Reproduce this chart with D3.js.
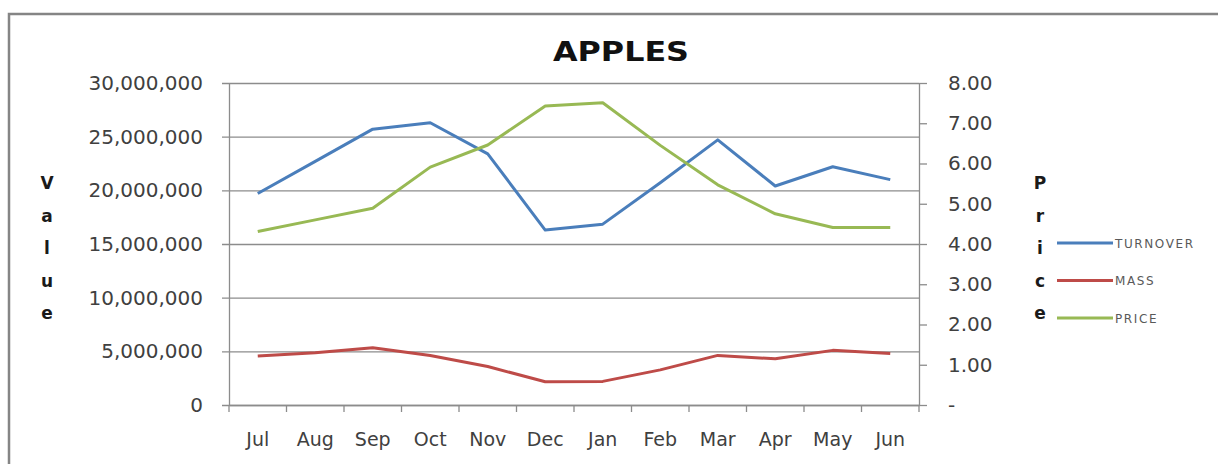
<!DOCTYPE html>
<html>
<head>
<meta charset="utf-8">
<script src="https://cdn.jsdelivr.net/npm/d3@7"></script>
<style>
  body { margin: 0; background: #fff; }
  svg text { font-family: "DejaVu Sans", sans-serif; }
</style>
</head>
<body>
<svg id="chart" width="1218" height="464"></svg>
<script>
// Monthly apple figures, July to June
const months = ["Jul", "Aug", "Sep", "Oct", "Nov", "Dec", "Jan", "Feb", "Mar", "Apr", "May", "Jun"];
const turnover = [19700000, 22700000, 25700000, 26300000, 23400000, 16300000, 16850000, 20700000, 24700000, 20400000, 22200000, 21000000];
const mass = [4560000, 4870000, 5340000, 4620000, 3580000, 2170000, 2200000, 3270000, 4620000, 4300000, 5090000, 4800000];
const price = [4.31, 4.60, 4.89, 5.91, 6.46, 7.43, 7.51, 6.45, 5.47, 4.75, 4.41, 4.41];
const valueTicks = [0, 5000000, 10000000, 15000000, 20000000, 25000000, 30000000];
const priceTicks = [0, 1, 2, 3, 4, 5, 6, 7, 8];
const seriesNames = ["TURNOVER", "MASS", "PRICE"];
const seriesColors = ["#4a7ebb", "#be4b48", "#98b954"];

const svg = d3.select("#chart");
const plotLeft = 229, plotRight = 919, plotTop = 83, plotBottom = 405;

const x = d3.scaleBand().domain(months).range([plotLeft, plotRight]);
const yValue = d3.scaleLinear().domain([0, 30000000]).range([plotBottom, plotTop]);
const yPrice = d3.scaleLinear().domain([0, 8]).range([plotBottom, plotTop]);

// chart frame (top and left edges)
svg.append("path")
  .attr("d", `M9,464 V14 H1218`)
  .attr("fill", "none")
  .attr("stroke", "#858585")
  .attr("stroke-width", 2.5);

// title
svg.append("text")
  .attr("x", 621).attr("y", 61)
  .attr("text-anchor", "middle")
  .attr("font-size", 26).attr("font-weight", "bold")
  .attr("fill", "#111")
  .attr("textLength", 136).attr("lengthAdjust", "spacingAndGlyphs")
  .text("APPLES");

// left axis with gridlines
const gLeft = svg.append("g").attr("transform", `translate(${plotLeft},0)`)
  .call(d3.axisLeft(yValue).tickValues(valueTicks)
    .tickSize(-(plotRight - plotLeft)).tickSizeOuter(0)
    .tickFormat(d => d === 0 ? "0" : d3.format(",")(d)).tickPadding(26));
gLeft.select(".domain").attr("stroke", "#8c8c8c").attr("stroke-width", 1.3);
gLeft.selectAll(".tick line").attr("x1", -7).attr("stroke", "#8c8c8c").attr("stroke-width", 1.3);
gLeft.selectAll(".tick text").attr("font-size", 20).attr("fill", "#404040").attr("font-family", "DejaVu Sans");

// right axis
const gRight = svg.append("g").attr("transform", `translate(${plotRight},0)`)
  .call(d3.axisRight(yPrice).tickValues(priceTicks)
    .tickSize(8).tickSizeOuter(0)
    .tickFormat(d => d === 0 ? "-" : d3.format(".2f")(d)).tickPadding(21));
gRight.select(".domain").attr("stroke", "#8c8c8c").attr("stroke-width", 1.3);
gRight.selectAll(".tick line").attr("stroke", "#8c8c8c").attr("stroke-width", 1.3);
gRight.selectAll(".tick text").attr("font-size", 20).attr("fill", "#404040").attr("font-family", "DejaVu Sans");

// category axis
const gBottom = svg.append("g").attr("transform", `translate(0,${plotBottom})`)
  .call(d3.axisBottom(x).tickSize(0).tickSizeOuter(0).tickPadding(28));
gBottom.select(".domain").attr("stroke", "#8c8c8c").attr("stroke-width", 1.3);
gBottom.selectAll(".tick text").attr("font-size", 19).attr("fill", "#404040").attr("font-family", "DejaVu Sans");
gBottom.selectAll(".boundary")
  .data(d3.range(months.length + 1))
  .join("line")
  .attr("class", "boundary")
  .attr("x1", i => plotLeft + i * x.step()).attr("x2", i => plotLeft + i * x.step())
  .attr("y1", 0).attr("y2", 7)
  .attr("stroke", "#8c8c8c").attr("stroke-width", 1.3);

// vertical axis titles
const stackTitle = (word, cx) => {
  svg.append("g").selectAll("text")
    .data(word.split(""))
    .join("text")
    .attr("x", cx)
    .attr("y", (d, i) => 189 + i * 32.5)
    .attr("text-anchor", "middle")
    .attr("font-size", 17).attr("font-weight", "bold")
    .attr("fill", "#1a1a1a")
    .text(d => d);
};
stackTitle("Value", 47);
stackTitle("Price", 1040);

// series lines
const xc = d => x(d) + x.bandwidth() / 2;
const lineValue = d3.line().x((d, i) => xc(months[i])).y(d => yValue(d));
const linePrice = d3.line().x((d, i) => xc(months[i])).y(d => yPrice(d));

svg.append("path").datum(turnover)
  .attr("d", lineValue).attr("fill", "none")
  .attr("stroke", seriesColors[0]).attr("stroke-width", 3).attr("stroke-linejoin", "round");
svg.append("path").datum(mass)
  .attr("d", lineValue).attr("fill", "none")
  .attr("stroke", seriesColors[1]).attr("stroke-width", 3).attr("stroke-linejoin", "round");
svg.append("path").datum(price)
  .attr("d", linePrice).attr("fill", "none")
  .attr("stroke", seriesColors[2]).attr("stroke-width", 3).attr("stroke-linejoin", "round");

// legend
const legend = svg.append("g").selectAll("g")
  .data(seriesNames)
  .join("g")
  .attr("transform", (d, i) => `translate(1057,${243 + i * 37.5})`);
legend.append("line")
  .attr("x1", 0).attr("x2", 56)
  .attr("stroke", (d, i) => seriesColors[i]).attr("stroke-width", 3);
legend.append("text")
  .attr("x", 58).attr("y", 4.5)
  .attr("font-size", 12).attr("letter-spacing", 1.6)
  .attr("fill", "#595959")
  .text(d => d);
</script>
</body>
</html>
